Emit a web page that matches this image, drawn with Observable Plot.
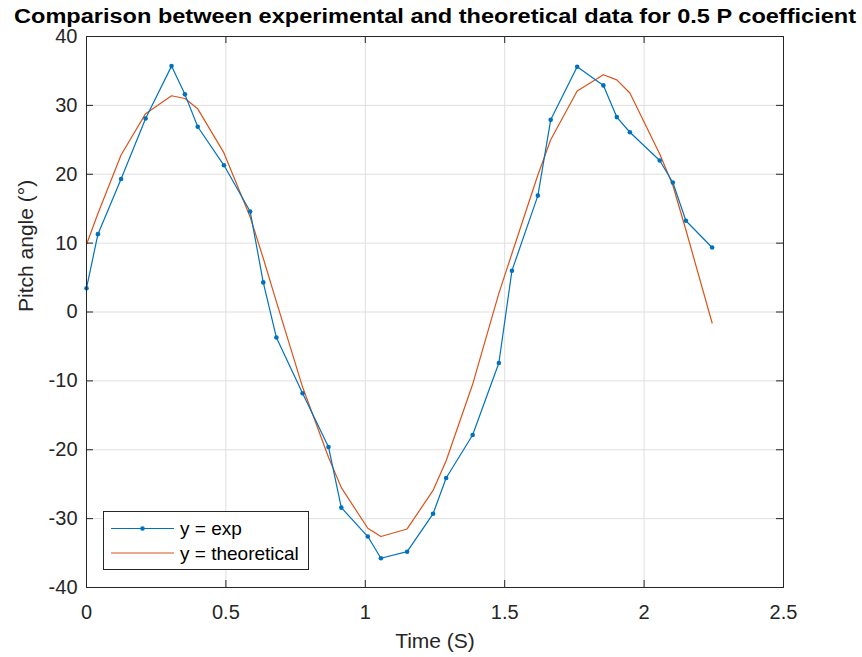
<!DOCTYPE html>
<html><head><meta charset="utf-8">
<script src="https://cdn.jsdelivr.net/npm/d3@7"></script>
<script src="https://cdn.jsdelivr.net/npm/@observablehq/plot@0.6"></script>
<style>
body{margin:0;background:#fff}
#wrap{position:relative;width:862px;height:657px}
#legend{position:absolute;left:103px;top:511px;width:204px;height:57px;border:1px solid #262626;background:#fff}
</style>
</head><body>
<div id="wrap"></div>
<script>
const titleText = "Comparison between experimental and theoretical data for 0.5 P coefficient";
const xLabel = "Time (S)";
const yLabel = "Pitch angle (°)";
const seriesNames = ["y = exp", "y = theoretical"];
const xTicks = [0, 0.5, 1, 1.5, 2, 2.5];
const yTicks = [-40, -30, -20, -10, 0, 10, 20, 30, 40];
const time = [0,0.041,0.124,0.212,0.305,0.353,0.399,0.493,0.587,0.634,0.681,0.775,0.868,0.914,1.009,1.056,1.150,1.243,1.290,1.385,1.479,1.526,1.619,1.665,1.760,1.854,1.902,1.949,2.056,2.103,2.150,2.244];
const expVals = [3.45,11.3,19.3,28.1,35.7,31.6,26.9,21.3,14.6,4.3,-3.7,-11.8,-19.6,-28.4,-32.6,-35.75,-34.8,-29.3,-24.1,-17.85,-7.4,6.0,16.9,27.9,35.6,32.9,28.3,26.1,22.0,18.8,13.25,9.37];
const theoVals = [9.8,14.3,22.8,28.8,31.4,31.0,29.5,23.1,13.8,7.8,1.5,-10.9,-21.1,-25.5,-31.4,-32.6,-31.5,-25.9,-21.6,-10.5,2.7,8.5,19.9,25.0,32.1,34.45,33.7,31.8,22.95,18.4,11.9,-1.6];
const colors = ["#0072BD", "#D95319"];

const expData = time.map((t, i) => ({t, v: expVals[i]}));
const theoData = time.map((t, i) => ({t, v: theoVals[i]}));

const W = 862, H = 657, mL = 86, mR = 79, mT = 36, mB = 70;
const innerH = H - mT - mB;
const innerW = W - mL - mR;
const axisColor = "#262626";
const gridColor = "#dfdfdf";
const font = "'Liberation Sans', Arial, sans-serif";

const chart = Plot.plot({
  width: W, height: H,
  marginLeft: mL, marginRight: mR, marginTop: mT, marginBottom: mB,
  style: {fontFamily: font, fontSize: "20px", color: axisColor, background: "white"},
  x: {domain: [0, 2.5]},
  y: {domain: [-40, 40]},
  marks: [
    Plot.gridX(xTicks, {stroke: gridColor, strokeOpacity: 1}),
    Plot.gridY(yTicks, {stroke: gridColor, strokeOpacity: 1}),
    Plot.line(theoData, {x: "t", y: "v", stroke: colors[1], strokeWidth: 1.2}),
    Plot.line(expData, {x: "t", y: "v", stroke: colors[0], strokeWidth: 1.2}),
    Plot.dot(expData, {x: "t", y: "v", r: 2.3, fill: colors[0]}),
    Plot.tickX(xTicks, {x: d => d, insetTop: innerH - 7, stroke: axisColor}),
    Plot.tickX(xTicks, {x: d => d, insetBottom: innerH - 7, stroke: axisColor}),
    Plot.tickY(yTicks, {y: d => d, insetRight: innerW - 7, stroke: axisColor}),
    Plot.tickY(yTicks, {y: d => d, insetLeft: innerW - 7, stroke: axisColor}),
    Plot.frame({stroke: axisColor}),
    Plot.axisX(xTicks, {tickSize: 0, tickPadding: 17, label: null, tickFormat: d => String(d), fontSize: 20, fill: axisColor}),
    Plot.axisY(yTicks, {tickSize: 0, tickPadding: 9, label: null, tickFormat: d => String(d), fontSize: 20, fill: axisColor}),
    Plot.text([xLabel], {frameAnchor: "bottom", lineAnchor: "middle", dy: 53.5, fontSize: 21, fill: axisColor}),
    Plot.text([yLabel], {frameAnchor: "left", lineAnchor: "middle", dx: -60, rotate: -90, fontSize: 21, fill: axisColor}),
    Plot.text([titleText], {frameAnchor: "top", lineAnchor: "middle", dy: -19.5, fontSize: 20, fontWeight: "bold", fill: "#000"})
  ]
});
const wrap = document.getElementById("wrap");
wrap.appendChild(chart);

// stretch title to the reference's width
chart.querySelectorAll("text").forEach(el => {
  if (el.textContent === titleText) {
    el.setAttribute("textLength", 842);
    el.setAttribute("lengthAdjust", "spacingAndGlyphs");
  }
});

// legend
const leg = document.createElement("div");
leg.id = "legend";
const svgNS = "http://www.w3.org/2000/svg";
const ls = document.createElementNS(svgNS, "svg");
ls.setAttribute("width", 204); ls.setAttribute("height", 57);
seriesNames.forEach((name, i) => {
  const y = i === 0 ? 16.5 : 41;
  const line = document.createElementNS(svgNS, "line");
  line.setAttribute("x1", 7); line.setAttribute("x2", 70);
  line.setAttribute("y1", y); line.setAttribute("y2", y);
  line.setAttribute("stroke", colors[i]); line.setAttribute("stroke-width", 1.2);
  ls.appendChild(line);
  if (i === 0) {
    const c = document.createElementNS(svgNS, "circle");
    c.setAttribute("cx", 38.5); c.setAttribute("cy", y); c.setAttribute("r", 2.3);
    c.setAttribute("fill", colors[i]);
    ls.appendChild(c);
  }
  const t = document.createElementNS(svgNS, "text");
  t.setAttribute("x", 76); t.setAttribute("y", y);
  t.setAttribute("dy", "0.35em");
  t.setAttribute("font-family", font); t.setAttribute("font-size", 19);
  t.setAttribute("fill", "#000");
  t.textContent = name;
  ls.appendChild(t);
});
leg.appendChild(ls);
wrap.appendChild(leg);
</script>
</body></html>
